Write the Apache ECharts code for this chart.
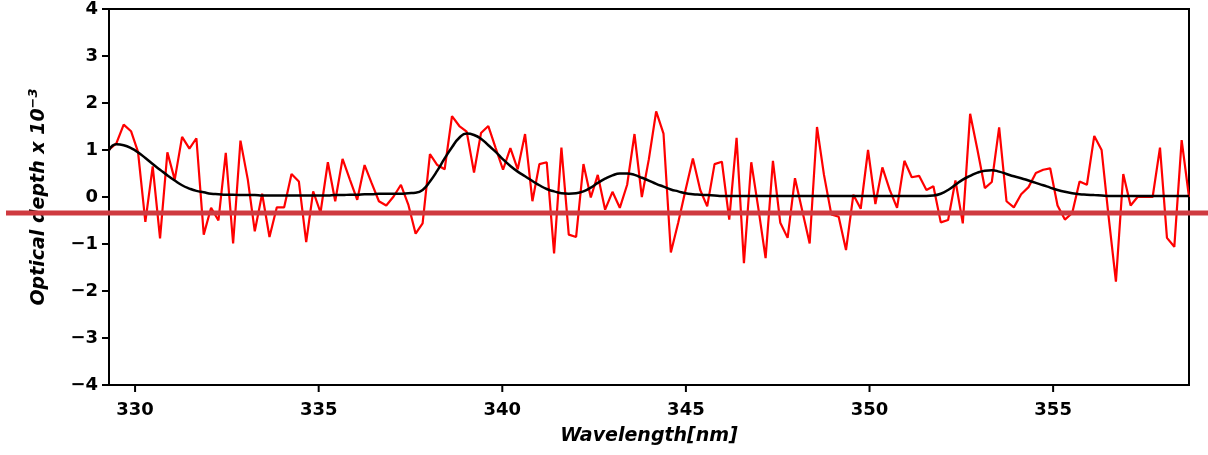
<!DOCTYPE html>
<html>
<head>
<meta charset="utf-8">
<script src="https://cdn.jsdelivr.net/npm/echarts@6/dist/echarts.min.js"></script>
<style>
html,body{margin:0;padding:0;background:#fff;}
#chart{width:1208px;height:455px;}
</style>
</head>
<body>
<div id="chart"></div>
<script>
// Wavelength grid [nm]
const wavelengths = [
329.29,329.49,329.69,329.89,330.08,330.28,330.48,330.68,330.88,331.08,
331.28,331.48,331.67,331.87,332.07,332.27,332.47,332.67,332.87,333.07,
333.26,333.46,333.66,333.86,334.06,334.26,334.46,334.66,334.85,335.05,
335.25,335.45,335.65,335.85,336.05,336.25,336.44,336.64,336.84,337.04,
337.24,337.44,337.64,337.83,338.03,338.23,338.43,338.63,338.83,339.03,
339.23,339.42,339.62,339.82,340.02,340.22,340.42,340.62,340.82,341.01,
341.21,341.41,341.61,341.81,342.01,342.21,342.41,342.60,342.80,343.00,
343.20,343.40,343.60,343.80,343.99,344.19,344.39,344.59,344.79,344.99,
345.19,345.39,345.58,345.78,345.98,346.18,346.38,346.58,346.78,346.98,
347.17,347.37,347.57,347.77,347.97,348.17,348.37,348.57,348.76,348.96,
349.16,349.36,349.56,349.76,349.96,350.16,350.35,350.55,350.75,350.95,
351.15,351.35,351.55,351.74,351.94,352.14,352.34,352.54,352.74,352.94,
353.14,353.33,353.53,353.73,353.93,354.13,354.33,354.53,354.73,354.92,
355.12,355.32,355.52,355.72,355.92,356.12,356.32,356.51,356.71,356.91,
357.11,357.31,357.51,357.71,357.91,358.10,358.30,358.50,358.70
];

// Measured optical depth (x 1e-3), red noisy line
const measured = [
1.01,1.14,1.54,1.40,0.96,-0.53,0.65,-0.88,0.95,0.37,
1.28,1.03,1.25,-0.80,-0.23,-0.50,0.94,-0.99,1.20,0.37,
-0.73,0.07,-0.85,-0.22,-0.22,0.49,0.33,-0.96,0.12,-0.33,
0.74,-0.09,0.81,0.37,-0.06,0.68,0.30,-0.09,-0.18,0.01,
0.26,-0.16,-0.78,-0.56,0.91,0.68,0.59,1.72,1.51,1.39,
0.52,1.36,1.51,1.04,0.58,1.04,0.59,1.34,-0.09,0.70,
0.74,-1.20,1.05,-0.80,-0.85,0.70,-0.01,0.47,-0.27,0.11,
-0.23,0.26,1.34,0.00,0.80,1.82,1.35,-1.18,-0.55,0.15,
0.82,0.15,-0.20,0.70,0.75,-0.48,1.26,-1.41,0.74,-0.28,
-1.30,0.77,-0.55,-0.87,0.40,-0.30,-0.99,1.49,0.47,-0.37,
-0.42,-1.13,0.05,-0.25,1.00,-0.15,0.63,0.15,-0.23,0.77,
0.42,0.45,0.15,0.23,-0.54,-0.49,0.35,-0.56,1.77,1.00,
0.19,0.32,1.48,-0.09,-0.22,0.06,0.21,0.51,0.58,0.61,
-0.18,-0.48,-0.34,0.33,0.26,1.30,1.00,-0.41,-1.80,0.49,
-0.18,0.01,0.00,0.00,1.05,-0.87,-1.06,1.21,0.00
];

// Fitted optical depth (x 1e-3), black smooth line
const fitted = [
1.00,1.12,1.10,1.04,0.95,0.83,0.70,0.58,0.46,0.35,
0.25,0.18,0.13,0.10,0.07,0.06,0.05,0.05,0.04,0.04,
0.04,0.03,0.03,0.03,0.03,0.03,0.03,0.03,0.03,0.03,
0.03,0.04,0.04,0.05,0.05,0.06,0.06,0.07,0.07,0.07,
0.07,0.08,0.09,0.15,0.33,0.56,0.82,1.06,1.26,1.35,
1.32,1.24,1.10,0.96,0.80,0.66,0.54,0.44,0.34,0.25,
0.17,0.12,0.08,0.07,0.08,0.12,0.20,0.30,0.39,0.46,
0.50,0.50,0.47,0.41,0.35,0.28,0.22,0.16,0.12,0.08,
0.06,0.05,0.04,0.03,0.02,0.02,0.02,0.02,0.02,0.02,
0.02,0.02,0.02,0.02,0.02,0.02,0.02,0.02,0.02,0.02,
0.02,0.02,0.02,0.02,0.02,0.02,0.02,0.02,0.02,0.02,
0.02,0.02,0.02,0.03,0.07,0.15,0.26,0.37,0.45,0.52,
0.56,0.57,0.54,0.49,0.44,0.40,0.35,0.30,0.25,0.20,
0.15,0.11,0.08,0.06,0.05,0.04,0.03,0.02,0.02,0.02,
0.02,0.02,0.02,0.02,0.02,0.02,0.02,0.02,0.02
];

const xTicks = [330, 335, 340, 345, 350, 355];
const yTicks = [-4, -3, -2, -1, 0, 1, 2, 3, 4];
const refLevel = [-0.34];

const FONT = 'DejaVu Sans';
const chart = echarts.init(document.getElementById('chart'), null, {renderer: 'canvas'});

const fmt = v => String(v).replace('-', '\u2212');

chart.setOption({
  animation: false,
  backgroundColor: '#fff',
  grid: {left: 109, right: 19, top: 8, bottom: 70, show: true, borderColor: '#000', borderWidth: 2, backgroundColor: 'transparent'},
  xAxis: {
    type: 'value', min: 329.29, max: 358.70,
    name: 'Wavelength[nm]', nameLocation: 'middle', nameGap: 42,
    nameTextStyle: {fontFamily: FONT, fontSize: 19, fontWeight: 'bold', fontStyle: 'italic', color: '#000'},
    axisLine: {show: true, onZero: false, lineStyle: {color: '#000', width: 2}},
    axisTick: {show: false},
    axisLabel: {fontFamily: FONT, fontSize: 18, fontWeight: 'bold', color: '#000', margin: 16, customValues: xTicks, formatter: fmt},
    splitLine: {show: false}
  },
  yAxis: {
    type: 'value', min: yTicks[0], max: yTicks[yTicks.length - 1], interval: 1,
    name: 'Optical depth x 10{sup|\u22123}', nameLocation: 'middle', nameGap: 57,
    nameTextStyle: {fontFamily: FONT, fontSize: 19, fontWeight: 'bold', fontStyle: 'italic', color: '#000',
      rich: {sup: {fontFamily: FONT, fontSize: 13, fontWeight: 'bold', fontStyle: 'italic', color: '#000', verticalAlign: 'top', padding: [0, 0, 12, 0]}}},
    axisLine: {show: true, onZero: false, lineStyle: {color: '#000', width: 2}},
    axisTick: {show: false},
    axisLabel: {fontFamily: FONT, fontSize: 18, fontWeight: 'bold', color: '#000', margin: 11, formatter: fmt},
    splitLine: {show: false}
  },
  series: [
    {type: 'line', data: wavelengths.map((w, i) => [w, measured[i]]), showSymbol: false, symbol: 'none',
     lineStyle: {color: '#ff0000', width: 2.2}, z: 2},
    {type: 'line', data: wavelengths.map((w, i) => [w, fitted[i]]), showSymbol: false, symbol: 'none', smooth: true,
     lineStyle: {color: '#000000', width: 2.5}, z: 3}
  ]
});

// Tick marks drawn at axis values via the library's own scale conversion
const graphics = [];
const bottomY = chart.convertToPixel({yAxisIndex: 0}, yTicks[0]);
const leftX = chart.convertToPixel({xAxisIndex: 0}, 329.29);
xTicks.forEach(v => {
  const px = chart.convertToPixel({xAxisIndex: 0}, v);
  graphics.push({type: 'line', z: 50, shape: {x1: px, y1: bottomY, x2: px, y2: bottomY + 7}, style: {stroke: '#000', lineWidth: 2}});
});
yTicks.forEach(v => {
  const py = chart.convertToPixel({yAxisIndex: 0}, v);
  graphics.push({type: 'line', z: 50, shape: {x1: leftX - 7, y1: py, x2: leftX, y2: py}, style: {stroke: '#000', lineWidth: 2}});
});
const yPix = chart.convertToPixel({yAxisIndex: 0}, refLevel[0]);
graphics.push({type: 'line', z: 100, shape: {x1: 6, y1: yPix, x2: 1208, y2: yPix}, style: {stroke: '#cf3a40', lineWidth: 5}});
chart.setOption({graphic: graphics});
</script>
</body>
</html>
